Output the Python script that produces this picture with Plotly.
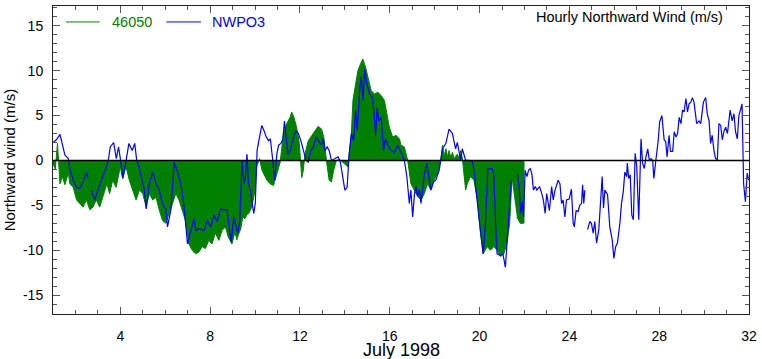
import plotly.graph_objects as go

# ---- data (day of July 1998, northward wind m/s) ----
nwpo3_day = [1.00,1.15,1.31,1.42,1.53,1.68,1.75,1.90,2.05,2.19,2.34,2.49,2.56,2.63,2.71,2.86,3.00,3.15,3.30,3.45,3.55,3.70,3.82,3.92,
4.00,4.11,4.23,4.38,4.53,4.64,4.73,4.85,4.97,5.07,5.15,5.29,5.44,5.59,5.73,5.88,6.03,6.10,6.25,6.40,6.55,6.70,6.84,6.99,
7.14,7.28,7.36,7.50,7.73,7.87,8.02,8.17,8.31,8.46,8.61,8.76,8.88,8.94,9.05,9.13,9.23,9.32,9.42,9.50,9.57,9.64,9.71,9.79,
9.86,9.94,10.01,10.09,10.17,10.30,10.40,10.50,10.60,10.68,10.79,10.87,10.97,11.05,11.15,11.24,11.31,11.38,11.46,11.56,
11.71,11.82,11.93,12.04,12.15,12.27,12.37,12.48,12.60,12.71,12.81,12.96,13.04,13.11,13.21,13.30,13.40,13.55,13.70,13.80,
13.89,14.00,14.10,14.19,14.29,14.39,14.48,14.55,14.66,14.73,14.81,14.88,14.95,15.03,15.10,15.22,15.29,15.37,15.44,15.51,
15.62,15.72,15.81,15.91,16.06,16.20,16.35,16.50,16.65,16.76,16.87,16.94,17.02,17.10,17.17,17.24,17.32,17.39,17.46,17.54,
17.65,17.75,17.83,17.95,18.05,18.20,18.27,18.35,18.50,18.57,18.64,18.79,18.86,18.93,19.01,19.09,19.16,19.23,19.31,19.38,
19.53,19.68,19.75,19.83,19.90,19.97,20.04,20.16,20.26,20.37,20.56,20.63,20.70,20.78,20.93,21.04,21.15,21.22,21.34,21.41,
21.55,21.69,21.77,21.84,21.90,21.96,22.03,22.11,22.18,22.26,22.33,22.40,22.48,22.55,22.67,22.77,22.84,22.92,22.99,23.11,
23.21,23.28,23.36,23.50,23.58,23.65,23.72,23.80,23.87,23.99,24.09,24.17,24.22,24.30,24.39,24.46,24.54,24.59,24.64,24.69,
24.75,24.81,24.91,24.98,25.06,25.13,25.21,25.31,25.40,25.46,25.52,25.58,25.70,25.80,25.91,25.98,26.06,26.14,26.25,26.32,
26.40,26.47,26.55,26.58,26.64,26.71,26.78,26.85,26.93,27.00,27.09,27.19,27.26,27.34,27.41,27.49,27.56,27.64,27.71,27.76,
27.86,27.96,28.02,28.12,28.22,28.29,28.35,28.44,28.50,28.60,28.67,28.75,28.82,28.89,28.97,29.04,29.11,29.19,29.26,29.33,
29.41,29.48,29.55,29.67,29.77,29.85,29.97,30.07,30.14,30.22,30.29,30.36,30.44,30.51,30.59,30.66,30.74,30.81,30.89,30.96,
31.04,31.11,31.16,31.25,31.33,31.40,31.48,31.55,31.62,31.69,31.74,31.76,31.84,31.92,31.99]
nwpo3_wind = [2.0,2.3,2.9,1.9,0.6,0.2,-0.9,-2.2,-3.0,-3.1,-2.4,-1.3,-2.0,None,-3.3,-4.4,-3.3,-2.2,-1.1,-0.2,1.5,2.0,0.2,1.5,
0.2,-2.0,-0.4,1.9,1.1,1.9,0.0,-0.9,-2.2,-3.3,-5.4,-2.6,-1.3,-2.6,-3.3,-4.8,-5.5,-7.4,-5.5,-0.2,-1.3,-2.6,-5.2,-9.3,
-7.8,-6.5,-7.8,-7.6,-7.8,-6.7,-7.4,-6.1,-6.8,-5.4,-5.5,-5.5,-8.1,-9.1,-6.3,-7.0,-8.1,-6.7,0.0,-2.6,-1.9,0.7,-2.6,-3.3,
-4.8,-5.9,-4.8,1.1,2.2,3.9,3.3,2.6,2.2,2.4,0.0,-2.2,0.7,1.7,1.9,2.4,4.4,2.6,0.7,1.1,
2.6,3.3,3.0,2.2,1.1,0.0,-0.2,1.1,1.5,2.6,2.2,1.7,2.4,1.1,1.5,1.1,0.0,0.2,0.4,-0.2,
-1.5,-3.3,-3.0,0.7,3.0,2.2,5.6,3.3,7.8,9.3,6.7,10.2,8.9,8.1,7.4,7.0,5.6,2.8,5.9,4.4,
4.8,1.1,2.4,1.7,1.1,0.9,1.7,0.9,0.0,-1.8,-4.8,-3.3,-6.3,-3.7,-2.9,-4.0,-3.3,-4.8,-2.9,-1.6,
-0.3,-1.8,-3.3,-2.4,-2.2,-1.1,0.0,1.3,1.9,2.6,3.5,3.0,1.9,1.3,2.0,0.7,0.0,1.3,0.6,0.0,
0.0,-0.1,-1.1,-3.3,-5.2,-6.3,-7.8,-10.4,-7.0,-0.9,-0.9,-1.5,-6.3,-10.4,-10.6,-10.4,-11.9,-8.9,-4.8,-2.2,
None,-1.5,-3.3,-5.9,-4.6,-6.3,-1.1,-1.8,-1.1,-0.9,-1.5,-3.3,-2.9,-3.3,-2.9,-3.7,-4.4,-5.9,-3.7,-5.6,
-2.9,-4.4,-3.3,-2.2,-2.6,-4.8,-4.4,-6.3,-4.4,-4.3,-3.2,-7.0,-7.4,-5.6,-5.7,-5.0,-4.8,-2.7,-4.8,-3.3,
None,-7.7,-6.8,-7.0,-8.1,-6.8,-9.2,-7.7,-4.4,-1.8,-5.3,-3.3,-3.8,-7.4,-8.9,-10.9,-9.6,-9.2,-7.0,-4.8,
-3.5,-1.3,-1.8,-0.3,-2.0,-1.6,-6.1,-6.6,0.8,-0.7,-6.6,2.4,-0.3,-0.9,0.4,1.3,0.0,0.2,0.0,-2.0,
0.2,2.3,4.3,5.0,2.3,2.1,0.4,2.8,1.0,1.0,3.2,2.6,3.0,4.8,4.1,5.6,5.4,6.9,5.4,6.3,
6.5,7.0,6.5,4.1,4.4,4.1,6.5,7.0,5.2,4.4,1.9,2.8,1.1,0.2,0.1,4.1,3.9,2.3,3.3,3.7,
3.0,4.4,5.6,4.4,5.2,3.2,2.4,5.0,5.8,6.3,0.0,-2.6,-4.6,-1.4,-2.2]

b46050_day = [1.00,1.10,1.20,1.25,1.31,1.42,1.53,1.68,1.75,1.90,2.05,2.19,2.34,2.49,2.64,2.78,2.93,3.08,3.22,3.40,3.52,3.66,3.81,
4.00,4.10,4.25,4.40,4.60,4.70,4.85,5.00,5.15,5.29,5.44,5.59,5.73,5.88,6.03,6.17,6.32,6.47,6.61,6.76,6.90,7.05,7.20,7.35,
7.50,7.64,7.79,7.94,8.08,8.23,8.39,8.53,8.68,8.80,8.97,9.10,9.20,9.28,9.35,9.45,9.55,9.65,9.72,9.85,10.00,10.07,10.20,
10.31,10.53,10.67,10.82,10.97,11.12,11.26,11.41,11.56,11.63,11.73,11.85,11.97,12.08,12.15,12.22,12.37,12.52,12.67,12.81,
12.96,13.06,13.18,13.30,13.40,13.50,13.62,13.77,13.99,14.14,14.21,14.29,14.36,14.48,14.58,14.69,14.80,14.92,15.03,15.17,
15.32,15.47,15.62,15.76,15.87,15.98,16.13,16.28,16.43,16.50,16.65,16.80,16.94,17.09,17.24,17.39,17.54,17.68,17.83,17.97,
18.12,18.27,18.35,18.42,18.50,18.57,18.64,18.72,18.79,18.86,18.94,19.01,19.09,19.16,19.23,19.30,19.38,19.45,19.60,19.75,
19.90,20.04,20.16,20.34,20.49,20.63,20.78,20.93,21.08,21.22,21.34,21.44,21.55,21.66,21.81,21.96,22.00]
b46050_wind = [-0.3,-1.0,1.9,-0.5,-2.6,-1.8,-2.7,-1.4,-2.6,-3.0,-4.4,-4.8,-5.2,-4.4,-5.5,-5.2,-4.4,-5.2,-4.1,-2.6,-3.7,-2.2,-3.0,
-0.7,-2.0,-0.7,-2.2,-3.7,-4.4,-3.3,-3.7,-5.2,-3.7,-4.4,-4.1,-5.5,-6.7,-7.0,-5.9,-4.8,-3.7,-4.4,-5.5,-6.7,-9.3,-10.0,-10.4,
-10.2,-9.6,-9.8,-8.9,-9.3,-8.1,-8.9,-7.8,-7.4,-8.5,-9.3,-8.0,-8.9,None,-7.8,-6.3,-6.5,-6.0,-5.9,-5.2,-3.3,-0.7,0.2,
-1.1,-2.2,-2.6,-2.8,-1.5,-0.2,3.0,4.1,4.8,5.4,4.8,3.7,1.9,-1.9,-1.1,0.7,2.2,2.8,3.3,3.8,
3.5,2.6,0.0,-2.2,-2.4,-1.1,0.0,0.1,-0.4,-0.7,1.1,3.0,6.7,8.5,10.0,10.7,11.3,10.4,9.3,7.8,
7.4,7.6,7.2,6.7,5.2,3.7,2.6,2.8,2.4,1.7,1.5,0.0,-2.6,-3.3,-4.0,-4.4,-3.7,-2.6,-3.3,-2.2,
-1.5,0.0,1.7,0.5,1.3,0.4,1.1,0.3,0.9,0.2,0.5,0.7,0.2,1.1,0.3,-1.8,-3.3,-2.6,-1.8,-2.2,
-4.4,-8.1,-10.4,-9.6,-10.0,-9.6,-10.0,-10.7,-10.4,-9.2,-7.0,-2.2,None,-6.3,-7.0,-7.0,-6.8]

x_ticks = [4, 8, 12, 16, 20, 24, 28, 32]
y_ticks = [-15, -10, -5, 0, 5, 10, 15]

GREEN = "#008000"
BLUE = "#0000ff"
FONT = "Liberation Sans, Arial, sans-serif"

L, R, T, B = 53, 8, 5, 45
W, H = 762, 359
pw, ph = W - L - R, H - T - B

def px(x):
    return (x - L) / pw

def py(y):
    return (H - B - y) / ph

fig = go.Figure()
fig.add_trace(go.Scatter(x=b46050_day, y=b46050_wind, mode="lines", fill="tozeroy",
                         fillcolor=GREEN, line=dict(color=GREEN, width=1),
                         connectgaps=False, name="46050", showlegend=False))
fig.add_trace(go.Scatter(x=nwpo3_day, y=nwpo3_wind, mode="lines",
                         line=dict(color=BLUE, width=1.2),
                         connectgaps=False, name="NWPO3", showlegend=False))
fig.add_hline(y=0, line=dict(color="black", width=1.5), layer="above")

axis_common = dict(showgrid=False, zeroline=False, showline=True, linecolor="#222", linewidth=1,
                   mirror="ticks", ticks="inside", ticklen=7, tickcolor="#555", tickwidth=1,
                   tickfont=dict(family=FONT, size=14, color="black"))
fig.update_xaxes(range=[1, 32], tickvals=x_ticks, ticktext=[str(v) for v in x_ticks],
                 ticklabelstandoff=9,
                 minor=dict(ticks="inside", ticklen=4, dtick=1, tick0=0, tickcolor="#555"),
                 **axis_common)
fig.update_yaxes(range=[-17.1, 17.2], tickvals=y_ticks, ticktext=[str(v) for v in y_ticks],
                 ticklabelstandoff=6,
                 minor=dict(ticks="inside", ticklen=4, dtick=1, tick0=0, tickcolor="#555"),
                 **axis_common)

# legend drawn inside plot
fig.add_shape(type="line", xref="paper", yref="paper", x0=px(66), x1=px(100), y0=py(21), y1=py(21),
              line=dict(color=GREEN, width=1))
fig.add_shape(type="line", xref="paper", yref="paper", x0=px(167), x1=px(202), y0=py(21), y1=py(21),
              line=dict(color=BLUE, width=1))
fig.add_annotation(xref="paper", yref="paper", x=px(110), y=py(21), text="46050", showarrow=False,
                   xanchor="left", yanchor="middle", font=dict(family=FONT, size=14.5, color=GREEN))
fig.add_annotation(xref="paper", yref="paper", x=px(211), y=py(21), text="NWPO3", showarrow=False,
                   xanchor="left", yanchor="middle", font=dict(family=FONT, size=14.5, color=BLUE))
fig.add_annotation(xref="paper", yref="paper", x=px(730), y=py(16), text="Hourly Northward Wind (m/s)",
                   showarrow=False, xanchor="right", yanchor="middle",
                   font=dict(family=FONT, size=14.5, color="black"))
fig.add_annotation(xref="paper", yref="paper", x=0.5, y=py(350), text="July 1998", showarrow=False,
                   xanchor="center", yanchor="middle", font=dict(family=FONT, size=18, color="black"))
fig.add_annotation(xref="paper", yref="paper", x=px(9), y=0.5, text="Northward wind (m/s)", showarrow=False,
                   textangle=-90, xanchor="center", yanchor="middle",
                   font=dict(family=FONT, size=15, color="black"))

fig.update_layout(width=W, height=H, margin=dict(l=L, r=R, t=T, b=B),
                  plot_bgcolor="white", paper_bgcolor="white", showlegend=False)

fig.write_html("out.html", config={"displayModeBar": False},
               post_script="document.body.style.margin='0px';document.body.style.overflow='hidden';")
